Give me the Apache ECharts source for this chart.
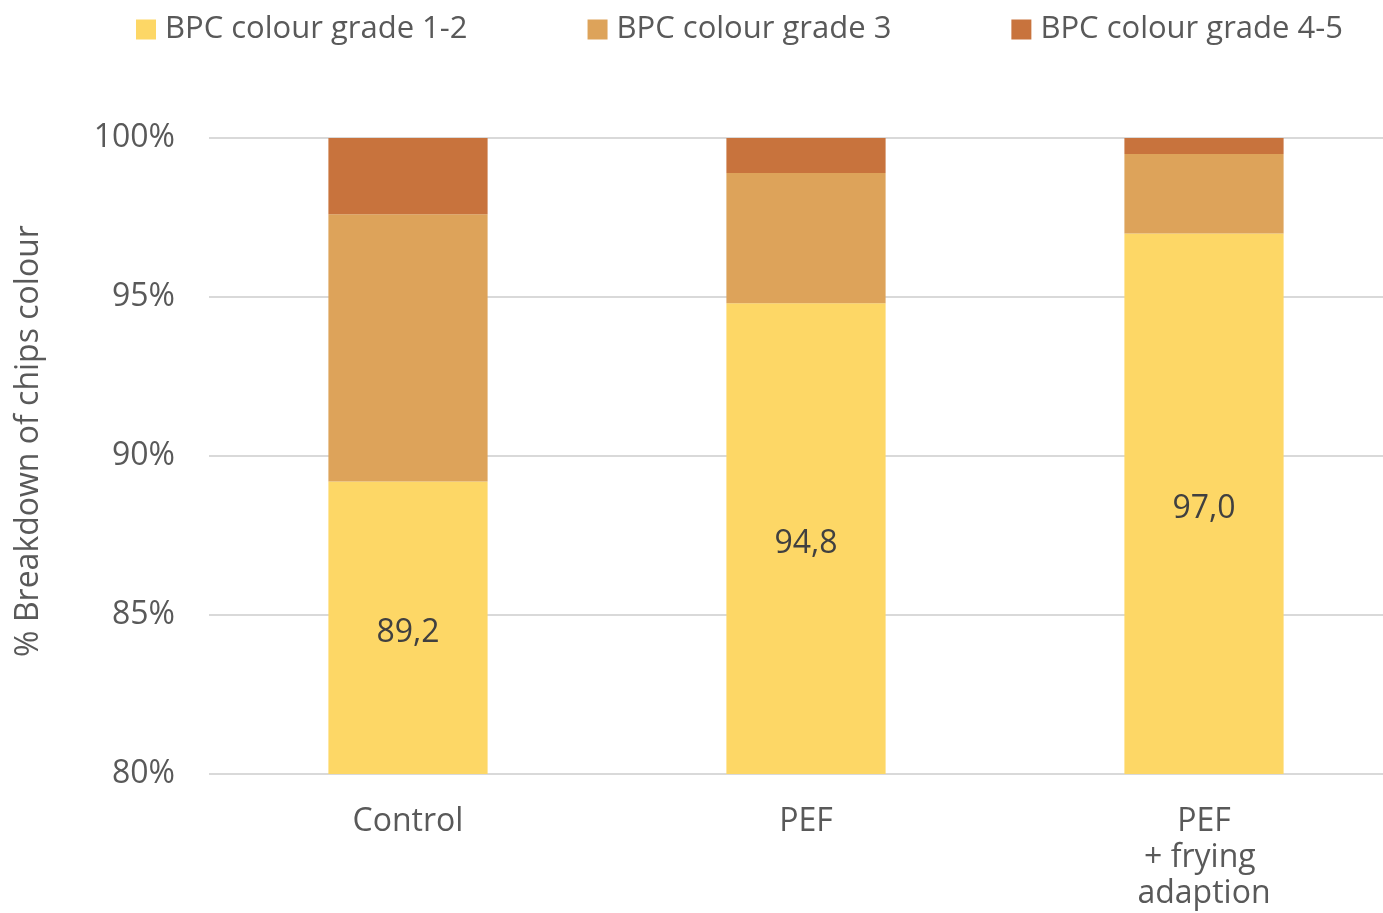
<!DOCTYPE html>
<html>
<head>
<meta charset="utf-8">
<script src="https://cdn.jsdelivr.net/npm/echarts@6/dist/echarts.min.js"></script>
<style>
  html, body { margin: 0; padding: 0; background: #fff; }
  #main { width: 1383px; height: 913px; }
</style>
</head>
<body>
<div id="main"></div>
<script>
// categories and series values (% of chips per colour grade)
const categories = ['Control', 'PEF', 'PEF\n+ frying \nadaption'];
const grade12 = [89.2, 94.8, 97.0];
const grade3 = [8.4, 4.1, 2.5];
const grade45 = [2.4, 1.1, 0.5];
const seriesNames = ['BPC colour grade 1-2', 'BPC colour grade 3', 'BPC colour grade 4-5'];
const yTicks = [80, 85, 90, 95, 100];

const font = '"Open Sans", "Noto Sans", sans-serif';
const grey = '#595959';

const chart = echarts.init(document.getElementById('main'));

chart.setOption({
  animation: false,
  color: ['#FDD766', '#DDA35A', '#C8733D'],
  textStyle: { fontFamily: font },
  legend: {
    top: 9,
    left: 131,
    itemWidth: 20,
    itemHeight: 20,
    itemGap: 120,
    icon: 'rect',
    textStyle: { fontSize: 31, color: grey, fontFamily: font, padding: [0, 0, 0, 4] },
    data: seriesNames
  },
  grid: { left: 209, right: -20, top: 138, bottom: 139, outerBoundsMode: 'none', containLabel: false },
  xAxis: {
    type: 'category',
    data: categories,
    axisLine: { show: false },
    axisTick: { show: false },
    axisLabel: { color: grey, fontSize: 32, margin: 30, lineHeight: 36, fontFamily: font }
  },
  yAxis: {
    type: 'value',
    min: yTicks[0],
    max: yTicks[yTicks.length - 1],
    interval: 5,
    name: '% Breakdown of chips colour',
    nameLocation: 'middle',
    nameGap: 164,
    nameTextStyle: { color: grey, fontSize: 32, fontFamily: font, padding: [0, 0, 0, 30] },
    axisLine: { show: false },
    axisTick: { show: false },
    splitLine: { lineStyle: { color: '#D9D9D9', width: 2 } },
    axisLabel: { color: grey, fontSize: 32, margin: 34, formatter: '{value}%', fontFamily: font }
  },
  series: [
    {
      name: seriesNames[0], type: 'bar', stack: 'total', barWidth: '40%',
      data: grade12,
      label: {
        show: true, position: 'inside', offset: [0, 5], color: '#404040', fontSize: 32, fontFamily: font,
        formatter: p => p.value.toFixed(1).replace('.', ',')
      }
    },
    { name: seriesNames[1], type: 'bar', stack: 'total', data: grade3 },
    { name: seriesNames[2], type: 'bar', stack: 'total', data: grade45 }
  ]
});
</script>
</body>
</html>
